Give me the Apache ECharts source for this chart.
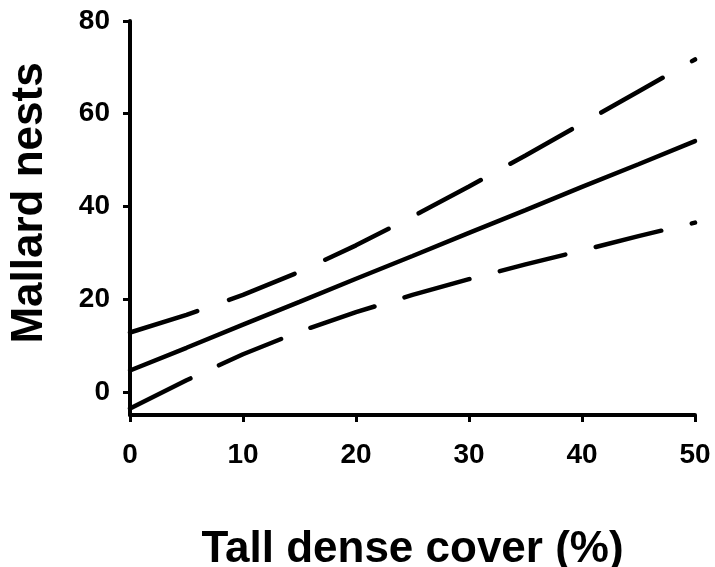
<!DOCTYPE html>
<html>
<head>
<meta charset="utf-8">
<script src="https://cdn.jsdelivr.net/npm/echarts@6/dist/echarts.min.js"></script>
<style>html,body{margin:0;padding:0;background:#fff;}#c{width:715px;height:567px;}</style>
</head>
<body>
<div id="c"></div>
<script>
var cover = [0, 5, 10, 15, 20, 25, 30, 35, 40, 45, 50];
var fitted = [4.6, 9.5, 14.5, 19.4, 24.4, 29.3, 34.3, 39.2, 44.2, 49.1, 54.1];
var upperCI = [12.8, 16.6, 20.9, 25.9, 31.6, 37.8, 44.3, 51.0, 57.9, 64.8, 71.7];
var lowerCI = [-3.6, 2.5, 8.1, 13.0, 17.2, 20.9, 24.3, 27.5, 30.5, 33.6, 36.5];
var yTicks = [0, 20, 40, 60, 80];

function pairs(xs, ys) { return xs.map(function (x, i) { return [x, ys[i]]; }); }

var font = '"Liberation Sans", Arial, Helvetica, sans-serif';
var chart = echarts.init(document.getElementById('c'), null, {renderer: 'canvas'});
chart.setOption({
  animation: false,
  backgroundColor: '#fff',
  grid: {left: 130, right: 20, top: 21, bottom: 152, containLabel: false, outerBoundsMode: 'none'},
  xAxis: {
    type: 'value', min: 0, max: 50, interval: 10,
    name: 'Tall dense cover (%)', nameLocation: 'middle', nameGap: 113,
    nameTextStyle: {fontFamily: font, fontWeight: 'bold', fontSize: 44, color: '#000'},
    axisLine: {show: true, onZero: false, lineStyle: {color: '#000', width: 4}},
    axisTick: {show: true, length: 7, lineStyle: {color: '#000', width: 3}},
    axisLabel: {fontFamily: font, fontWeight: 'bold', fontSize: 28, color: '#000', margin: 26},
    splitLine: {show: false}
  },
  yAxis: {
    type: 'value', min: -5, max: 80,
    name: 'Mallard nests', nameLocation: 'middle', nameGap: 78,
    nameTextStyle: {fontFamily: font, fontWeight: 'bold', fontSize: 44, color: '#000', padding: [0, 0, 0, 30]},
    axisLine: {show: true, onZero: false, lineStyle: {color: '#000', width: 4}},
    axisTick: {show: true, length: 7, lineStyle: {color: '#000', width: 3}, customValues: yTicks},
    axisLabel: {fontFamily: font, fontWeight: 'bold', fontSize: 28, color: '#000', margin: 20, customValues: yTicks},
    splitLine: {show: false}
  },
  series: [
    {type: 'line', data: pairs(cover, fitted), symbol: 'none', smooth: false,
     lineStyle: {color: '#000', width: 4.5, cap: 'round'}},
    {type: 'line', data: pairs(cover, upperCI), symbol: 'none', smooth: false,
     lineStyle: {color: '#000', width: 4.5, cap: 'round', type: [70.5, 33.8]}},
    {type: 'line', data: pairs(cover, lowerCI), symbol: 'none', smooth: false,
     lineStyle: {color: '#000', width: 4.5, cap: 'round', type: [67.5, 31.4]}}
  ]
});
</script>
</body>
</html>
